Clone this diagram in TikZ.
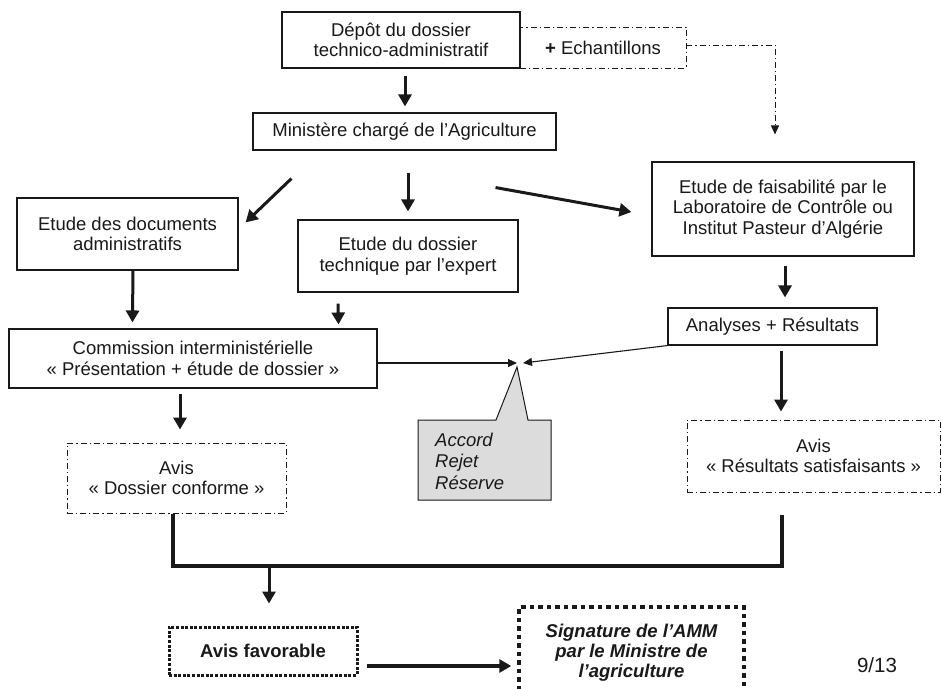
\documentclass[tikz,border=0pt]{standalone}
\usepackage{fontspec}
\setmainfont{Liberation Sans}
\usetikzlibrary{arrows.meta,calc}
\definecolor{calgray}{RGB}{220,220,220}
\definecolor{ink}{RGB}{25,25,25}
\begin{document}
\begin{tikzpicture}[x=1pt,y=-1pt,
  font=\fontsize{18.5}{20.5}\selectfont, color=ink,
  wh/.style 2 args={minimum width=#1pt, minimum height=#2pt},
  box/.style={draw, rectangle, line width=1.1pt, inner sep=0pt, align=center},
  dbox/.style={box, line width=0.9pt, dash pattern=on 6pt off 3pt on 1.2pt off 3pt},
  fbox/.style={box, line width=3pt, dash pattern=on 3pt off 1.6pt, font=\fontsize{18.5}{20.5}\selectfont\bfseries},
  sbox/.style={box, line width=3.5pt, dash pattern=on 4.5pt off 4pt, font=\fontsize{18.5}{20}\selectfont\bfseries\itshape},
  thk/.style={line width=3pt, -{Triangle[width=13pt,length=12pt]}},
  thn/.style={line width=1.1pt, -{Triangle[width=8pt,length=9pt]}},
  dda/.style={line width=0.9pt, dash pattern=on 6pt off 3pt on 1.2pt off 3pt, -{Triangle[width=8pt,length=9pt]}},
  brk/.style={line width=4pt, line join=miter}]
\fill[white] (0,0) rectangle (942,688);
\useasboundingbox (0,0) rectangle (942,688);
\clip (0,0) rectangle (942,688);

% nodes
\node[box, wh={238}{56}] (depot) at (401,40) {Dépôt du dossier\\technico-administratif};
\node[dbox, wh={166}{41}] (echant) at (603,47.5) {\textbf{+} Echantillons};
\node[box, wh={303}{37}] (minist) at (404.5,131.5) {Ministère chargé de l’Agriculture};
\node[box, wh={262}{94}] (faisab) at (783,209) {Etude de faisabilité par le\\Laboratoire de Contrôle ou\\Institut Pasteur d’Algérie};
\node[box, wh={209}{37}] (analyses) at (772.5,326.5) {Analyses + Résultats};
\node[box, wh={221}{72}] (docs) at (127.5,234) {Etude des documents\\administratifs};
\node[box, wh={220}{72}] (tech) at (408,256) {Etude du dossier\\technique par l’expert};
\node[box, wh={368}{59}] (comm) at (193,358.5) {Commission interministérielle\\« Présentation + étude de dossier »};
\node[dbox, wh={219}{70}] (avisconf) at (176.5,478) {Avis\\« Dossier conforme »};
\node[dbox, wh={253}{72}] (avisres) at (813.5,456) {Avis\\« Résultats satisfaisants »};
\node[fbox, wh={188}{48}] (avisfav) at (263,651) {Avis favorable};
\node[sbox, wh={225}{92}] (sign) at (631.5,653) {Signature de l’AMM\\par le Ministre de\\l’agriculture};
\node[inner sep=0pt, font=\fontsize{20.5}{22}\selectfont] (pagenum) at (877,665) {9/13};

% callout
\coordinate (tip) at (517,367);
\draw[line width=1pt, fill=calgray] (418,420) -- (496,420) -- (tip) -- (528,420) -- (551,420) -- (551,500) -- (418,500) -- cycle;
\node[anchor=west, align=left, inner sep=0pt, font=\fontsize{18.5}{21.5}\selectfont\itshape] (callout) at (435,461) {Accord\\Rejet\\Réserve};

% connectors
\draw[thk] ($(depot.south)+(4,7)$) -- ($(minist.north)+(0.5,-6)$);
\draw[dda] (echant.east |- 0,45) -- (775,45) -- ($(faisab.north)+(-8,-27)$);
\draw[thk] ($(minist.south west)+(39,28)$) -- ($(docs.north east)+(7,25)$);
\draw[thk] ($(minist.south)+(3.5,22)$) -- ($(tech.north)+(0,-8)$);
\draw[thk] ($(minist.south east)+(-61,37)$) -- ($(faisab.west)+(-20,3)$);
\draw[thk] ($(faisab.south)+(2,9)$) -- ($(analyses.north)+(12.5,-10)$);
\draw[thk] ($(docs.south)+(5.5,0)$) -- ($(comm.north west)+(124,-6)$);
\draw[thk] ($(tech.south)+(-70,11)$) -- ($(comm.north east)+(-39,-4)$);
\draw[thn] ($(comm.east)+(0,4.5)$) -- ($(tip)+(0,-4)$);
\draw[thn] (analyses.south west) -- ($(tip)+(6,-4)$);
\draw[thk] ($(comm.south)+(-13,5)$) -- ($(avisconf.north)+(3.5,-13)$);
\draw[thk] ($(analyses.south)+(8.5,5)$) -- ($(avisres.north)+(-32.5,-8)$);

\coordinate (jl) at (173,566);
\coordinate (jr) at (782,566);
\coordinate (jm) at (269,566);
\draw[brk] ($(avisconf.south)+(-3.5,1)$) -- (jl) -- (jr) -- ($(avisres.south)+(-31.5,23)$);
\draw[thk] (jm) -- ($(avisfav.north)+(6,-22)$);
\draw[thk, line width=3.5pt] ($(avisfav.east)+(8,15)$) -- ($(sign.west)+(-6,13)$);
\end{tikzpicture}
\end{document}
